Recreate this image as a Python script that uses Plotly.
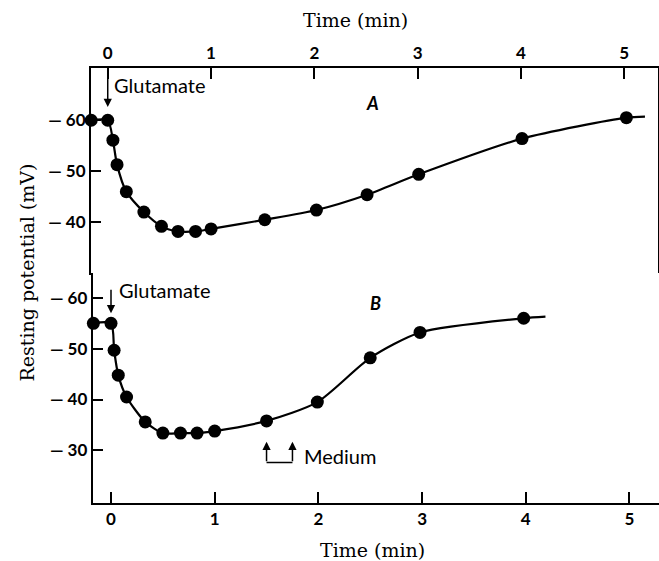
import plotly.graph_objects as go

W, H = 659, 561

# ---- Data ----
# Panel A
time_a = [-0.16, 0.0, 0.05, 0.09, 0.18, 0.35, 0.52, 0.68, 0.85, 1.0, 1.52, 2.02, 2.51, 3.01, 4.01, 5.02]
potential_a = [-60.0, -60.0, -56.1, -51.3, -46.0, -42.0, -39.2, -38.2, -38.2, -38.7, -40.5, -42.4, -45.4, -49.4, -56.4, -60.5]
curve_end_time_a = 5.2
curve_end_potential_a = -60.7

# Panel B
time_b = [-0.17, 0.0, 0.03, 0.07, 0.15, 0.33, 0.5, 0.67, 0.83, 1.0, 1.5, 1.99, 2.5, 2.98, 3.98]
potential_b = [-55.0, -55.0, -49.7, -44.8, -40.5, -35.6, -33.4, -33.4, -33.4, -33.8, -35.8, -39.5, -48.2, -53.2, -56.0]
curve_end_time_b = 4.19
curve_end_potential_b = -56.3

time_ticks = [0, 1, 2, 3, 4, 5]
time_ticklabels = ["0", "1", "2", "3", "4", "5"]
pot_ticks_a = [-60, -50, -40]
pot_ticks_b = [-60, -50, -40, -30]

glutamate_time = 0.0
medium_on = 1.5
medium_off = 1.75

# ---- Styles ----
SANS = "Lato"
SERIF = "DejaVu Serif"
tick_font = dict(family=SANS, size=17, color="black", weight="bold")
note_font = dict(family=SANS, size=20, color="black")
title_font = dict(family=SERIF, size=19, color="black")

def pot_label(v):
    return "\u2014 " + str(abs(v))

fig = go.Figure()

line_style = dict(color="black", width=2.2, shape="spline", smoothing=0.7)
mark_style = dict(color="black", size=13)

fig.add_trace(go.Scatter(x=time_a + [curve_end_time_a], y=potential_a + [curve_end_potential_a],
                         mode="lines", line=line_style, xaxis="x", yaxis="y", hoverinfo="skip"))
fig.add_trace(go.Scatter(x=time_a, y=potential_a, mode="markers", marker=mark_style,
                         cliponaxis=False, xaxis="x", yaxis="y"))
fig.add_trace(go.Scatter(x=time_b + [curve_end_time_b], y=potential_b + [curve_end_potential_b],
                         mode="lines", line=line_style, xaxis="x2", yaxis="y2", hoverinfo="skip"))
fig.add_trace(go.Scatter(x=time_b, y=potential_b, mode="markers", marker=mark_style,
                         cliponaxis=False, xaxis="x2", yaxis="y2"))

axis_common = dict(showline=True, linecolor="black", linewidth=2, ticks="inside",
                   tickcolor="black", tickwidth=2, showgrid=False, zeroline=False,
                   tickfont=tick_font)

fig.update_layout(
    width=W, height=H, autosize=False,
    margin=dict(l=0, r=0, t=0, b=0),
    paper_bgcolor="white", plot_bgcolor="white",
    showlegend=False,
    xaxis=dict(axis_common, domain=[91 / W, 658.3 / W], range=[-0.162, 5.329], side="top",
               anchor="y", mirror=True, ticklen=11, tickvals=time_ticks, ticktext=time_ticklabels),
    yaxis=dict(axis_common, domain=[1 - 273.3 / H, 1 - 67.7 / H], range=[-30.0, -70.3],
               anchor="x", mirror=True, ticklen=10, tickvals=pot_ticks_a,
               ticktext=[pot_label(v) for v in pot_ticks_a]),
    xaxis2=dict(axis_common, domain=[92.7 / W, 1.0], range=[-0.1765, 5.285], side="bottom",
                anchor="y2", ticklen=11, tickvals=time_ticks, ticktext=time_ticklabels),
    yaxis2=dict(axis_common, domain=[1 - 502.7 / H, 1 - 273.0 / H], range=[-19.7, -64.9],
                anchor="x2", ticklen=10, tickvals=pot_ticks_b,
                ticktext=[pot_label(v) for v in pot_ticks_b]),
)

ann = []
# Titles
ann.append(dict(text="Time (min)", xref="paper", yref="paper", x=355 / W, y=1 - 20 / H,
                showarrow=False, font=title_font, xanchor="center", yanchor="middle"))
ann.append(dict(text="Time (min)", xref="paper", yref="paper", x=372.5 / W, y=1 - 550 / H,
                showarrow=False, font=title_font, xanchor="center", yanchor="middle"))
ann.append(dict(text="Resting potential (mV)", xref="paper", yref="paper", x=26 / W, y=1 - 272.5 / H,
                showarrow=False, textangle=-90, font=title_font,
                xanchor="center", yanchor="middle"))
# Panel letters
ann.append(dict(text="<i>A</i>", xref="paper", yref="paper", x=372 / W, y=1 - 103 / H,
                showarrow=False, font=dict(family=SANS, size=18, color="black", weight="bold"),
                xanchor="center", yanchor="middle"))
ann.append(dict(text="<i>B</i>", xref="paper", yref="paper", x=375 / W, y=1 - 303 / H,
                showarrow=False, font=dict(family=SANS, size=18, color="black", weight="bold"),
                xanchor="center", yanchor="middle"))
# Glutamate arrows
ann.append(dict(x=glutamate_time, y=-62.6, xref="x", yref="y", ax=0, ay=-39, text="",
                showarrow=True, arrowhead=2, arrowsize=1.1, arrowwidth=1.5, arrowcolor="black"))
ann.append(dict(text="Glutamate", x=111.5 / W, y=1 - 85 / H, xref="paper", yref="paper",
                showarrow=False, font=note_font, xanchor="left", yanchor="middle"))
ann.append(dict(x=glutamate_time, y=-57.0, xref="x2", yref="y2", ax=0, ay=-25, text="",
                showarrow=True, arrowhead=2, arrowsize=1.1, arrowwidth=1.5, arrowcolor="black"))
ann.append(dict(text="Glutamate", x=117 / W, y=1 - 290 / H, xref="paper", yref="paper",
                showarrow=False, font=note_font, xanchor="left", yanchor="middle"))
# Medium arrows
for t in (medium_on, medium_off):
    ann.append(dict(x=t, y=-31.7, xref="x2", yref="y2", ax=0, ay=21, text="",
                    showarrow=True, arrowhead=2, arrowsize=1.1, arrowwidth=1.5, arrowcolor="black"))
ann.append(dict(text="Medium", x=302 / W, y=1 - 456 / H, xref="paper", yref="paper",
                showarrow=False, font=note_font, xanchor="left", yanchor="middle"))

fig.update_layout(annotations=ann)

fig.add_shape(type="line", xref="x2", yref="y2", x0=medium_on, x1=medium_off, y0=-27.6, y1=-27.6,
              line=dict(color="black", width=1.5))

fig.write_html("out.html", config={"displayModeBar": False},
               post_script="document.body.style.margin='0';document.body.style.overflow='hidden';")
